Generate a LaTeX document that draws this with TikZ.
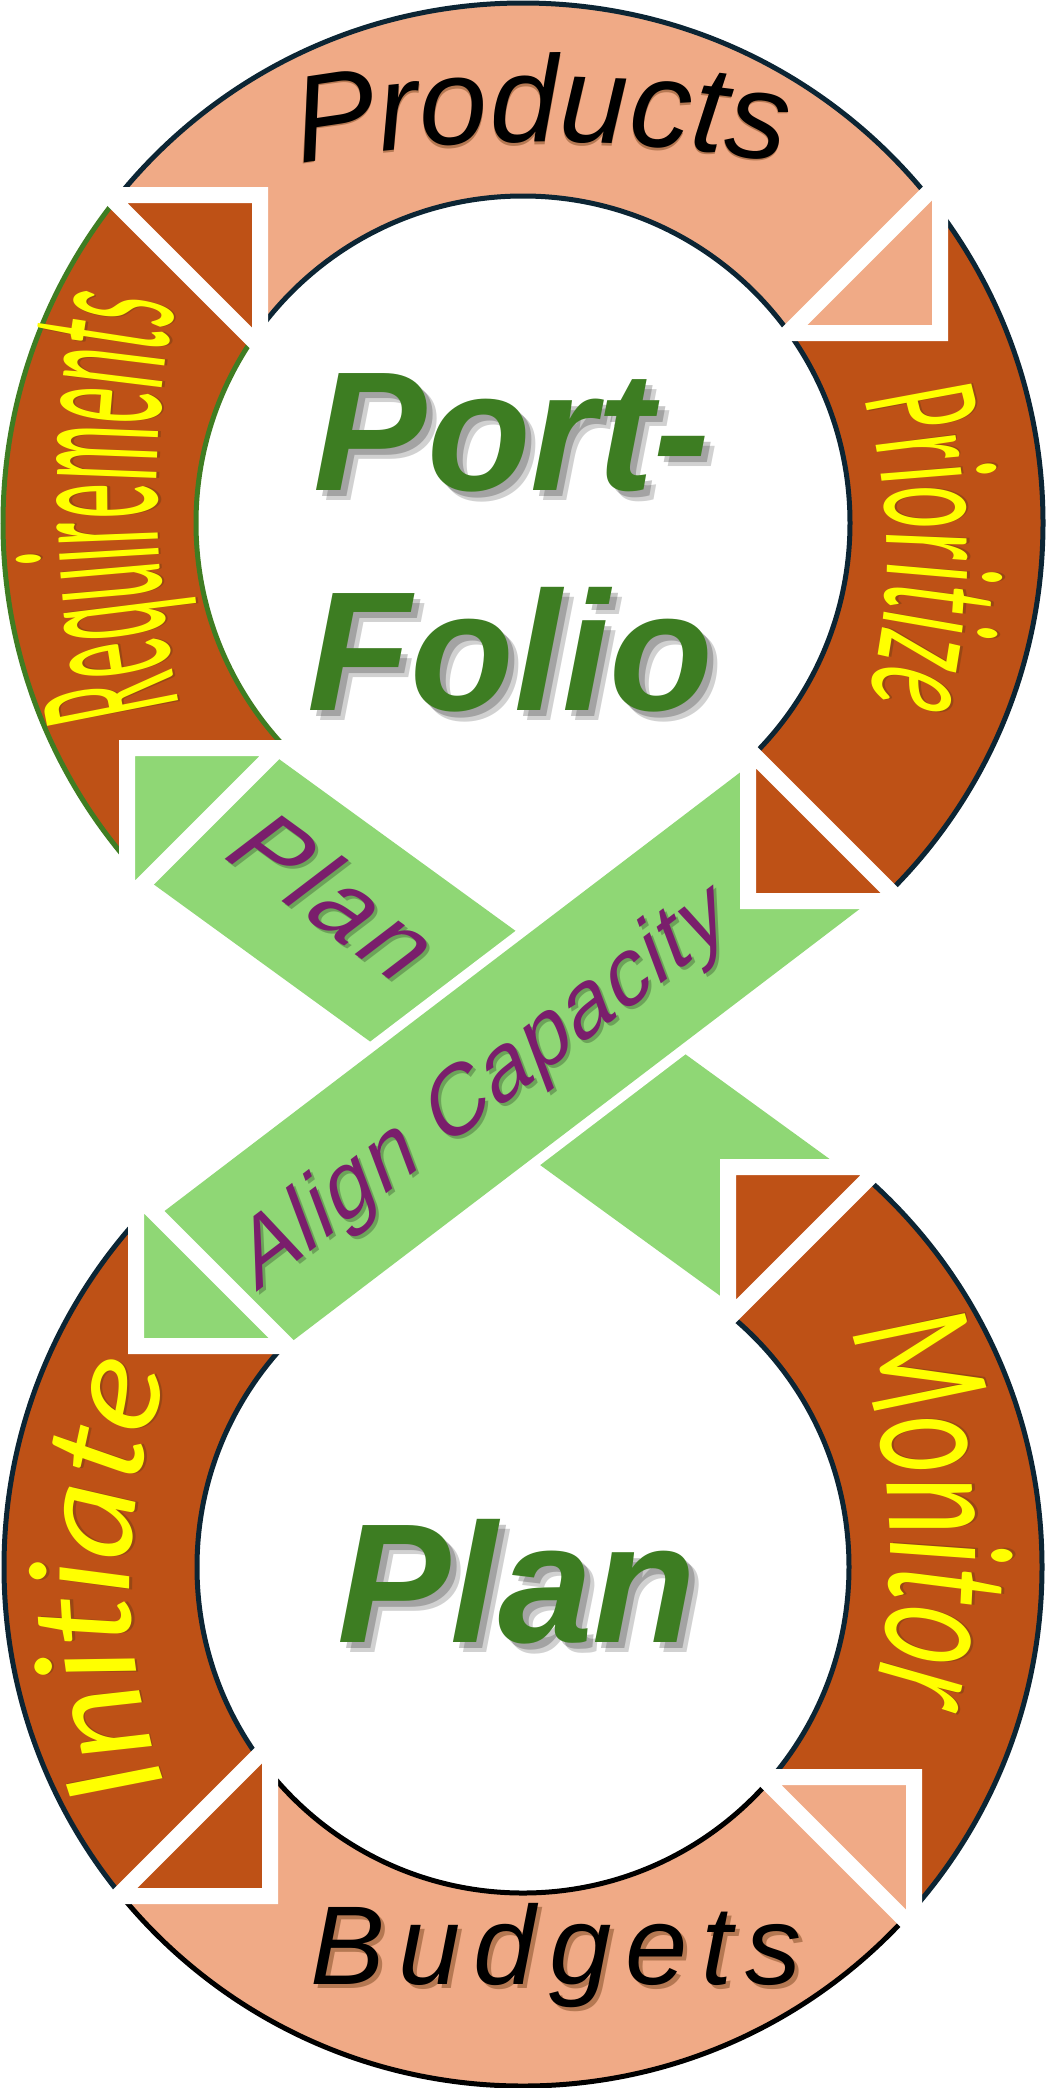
\documentclass[tikz,border=0pt]{standalone}
\usepackage{fontspec}
\setmainfont{Liberation Sans}
\newfontfamily\reqfont[FakeStretch=0.34]{Carlito}
\newfontfamily\prifont[FakeStretch=0.50]{Carlito}
\newfontfamily\monfont[FakeStretch=0.63]{Carlito}
\newfontfamily\inifont{Carlito}
\newfontfamily\purfont[LetterSpace=6]{Liberation Sans}
\newfontfamily\alifont[LetterSpace=2]{Liberation Sans}
\newfontfamily\budfont[LetterSpace=12]{Liberation Sans}
\usetikzlibrary{decorations.text}

\definecolor{salmon}{RGB}{240,170,134}
\definecolor{rust}{RGB}{190,81,22}
\definecolor{leaf}{RGB}{143,215,117}
\definecolor{navy}{RGB}{12,37,52}
\definecolor{ringgreen}{RGB}{63,125,34}
\definecolor{biggreen}{RGB}{61,125,34}
\definecolor{plum}{RGB}{122,30,108}
\definecolor{txtyellow}{RGB}{255,255,0}
\definecolor{glow}{RGB}{110,60,20}

\newcommand\reqF{\reqfont\fontsize{208}{208}\selectfont}
\newcommand\priF{\prifont\itshape\fontsize{168}{168}\selectfont}
\newcommand\monF{\monfont\itshape\fontsize{178}{178}\selectfont}
\newcommand\iniF{\inifont\itshape\fontsize{146}{146}\selectfont}
\newcommand\prodF{\itshape\fontsize{123}{123}\selectfont}

% text along a path with a soft offset shadow: #1 font, #2 colour, #3 text, #4 path
\newcommand\curvtext[4]{%
  \begin{scope}[shift={(4,4)}, opacity=0.45]
    \path[decorate, decoration={text along path, text align=center,
      text={|#1\color{glow}|#3}}] #4;
  \end{scope}
  \path[decorate, decoration={text along path, text align=center,
    text={|#1\color{#2}|#3}}] #4;
}

\tikzset{
  ringline/.style={line width=5pt},
  headtri/.style={draw=white, line width=16pt, line join=miter},
  bigtxt/.style={inner sep=0pt, font=\fontsize{170}{170}\selectfont\bfseries\itshape},
  purp/.style={inner sep=0pt, text=plum},
}

\begin{document}
\begin{tikzpicture}[x=1pt,y=-1pt]
\useasboundingbox (0,0) rectangle (1046,2088);
\fill[white] (0,0) rectangle (1046,2088);
\coordinate (T) at (523,523);
\coordinate (B) at (523,1567);

% ---------------- top ring ----------------
% Requirements
\begin{scope}
  \clip (470,557) -- (-330,-243) -- (-330,1357) -- cycle;
  \fill[rust, even odd rule] (T) circle[radius=520] (T) circle[radius=327];
  \draw[ringgreen, ringline] (T) circle[radius=520] (T) circle[radius=327];
\end{scope}
% Products
\begin{scope}
  \clip (517,604) -- (-283,-196) -- (1317,-196) -- cycle;
  \fill[salmon, even odd rule] (T) circle[radius=520] (T) circle[radius=327];
  \draw[navy, ringline] (T) circle[radius=520] (T) circle[radius=327];
\end{scope}
% Prioritize
\begin{scope}
  \clip (560,561) -- (1360,-239) -- (1360,1361) -- cycle;
  \fill[rust, even odd rule] (T) circle[radius=520] (T) circle[radius=327];
  \draw[navy, ringline] (T) circle[radius=520] (T) circle[radius=327];
\end{scope}

% ---------------- bottom ring ----------------
% Initiate
\begin{scope}
  \clip (478,1536) -- (-322,736) -- (-322,2336) -- cycle;
  \fill[rust, even odd rule] (B) circle[radius=519] (B) circle[radius=326];
  \draw[navy, ringline] (B) circle[radius=519] (B) circle[radius=326];
\end{scope}
% Budgets
\begin{scope}
  \clip (499.5,1514.5) -- (-300.5,2314.5) -- (1299.5,2314.5) -- cycle;
  \fill[salmon, even odd rule] (B) circle[radius=519] (B) circle[radius=326];
  \draw[black, ringline] (B) circle[radius=519] (B) circle[radius=326];
\end{scope}
% Monitor
\begin{scope}
  \clip (516,1531) -- (1316,2331) -- (1316,731) -- cycle;
  \fill[rust, even odd rule] (B) circle[radius=519] (B) circle[radius=326];
  \draw[navy, ringline] (B) circle[radius=519] (B) circle[radius=326];
\end{scope}

% ---------------- crossing bands ----------------
% Plan band
\fill[leaf] (272.6,754.4) -- (840.6,1167) -- (728,1167) -- (728,1301.5) -- (147.3,879.7) -- cycle;
% Align Capacity band (white gap, then band)
\fill[white] (150.8,1208.8) -- (748,753.9) -- (748,901) -- (886.6,901) -- (294.3,1352.3) -- cycle;
\fill[leaf] (158.0,1216.0) -- (748,766.4) -- (748,901) -- (870.1,901) -- (287.1,1345.1) -- cycle;

% ---------------- arrow heads ----------------
\filldraw[headtri, fill=rust]   (260,195)  -- (108,195)  -- (260,347)  -- cycle;
\filldraw[headtri, fill=salmon] (940,333)  -- (788,333)  -- (940,181)  -- cycle;
\filldraw[headtri, fill=rust]   (748,901)  -- (748,749)  -- (900,901)  -- cycle;
\filldraw[headtri, fill=leaf]   (127,748)  -- (279,748)  -- (127,900)  -- cycle;
\filldraw[headtri, fill=leaf]   (136,1346) -- (136,1194) -- (288,1346) -- cycle;
\filldraw[headtri, fill=rust]   (728,1167) -- (880,1167) -- (728,1319) -- cycle;
\filldraw[headtri, fill=rust]   (270,1896) -- (270,1744) -- (118,1896) -- cycle;
\filldraw[headtri, fill=salmon] (914,1777) -- (762,1777) -- (914,1929) -- cycle;

% ---------------- curved labels ----------------
\coordinate (prA) at (241.5,175.4);
\coordinate (prB) at (841.5,175.4);
\curvtext{\prodF}{black}{Products}{(prA) .. controls (441.5,130.9) and (641.5,130.9) .. (prB)}

\node[inner sep=0pt, anchor=base, text=glow, opacity=0.45,
      font=\budfont\itshape\fontsize{112}{112}\selectfont] (budgetsS) at (560,1988) {Budgets};
\node[inner sep=0pt, anchor=base, font=\budfont\itshape\fontsize{112}{112}\selectfont]
  (budgets) at (556,1984) {Budgets};

\coordinate (rqA) at (201.8,790);
\coordinate (rqB) at (195,220);
\curvtext{\reqF}{txtyellow}{Requirements}{(rqA) .. controls (144.3,600) and (142.1,410) .. (rqB)}

\coordinate (piA) at (839.7,330);
\coordinate (piB) at (845.3,770);
\curvtext{\priF}{txtyellow}{Prioritize}{(piA) .. controls (900.9,476.7) and (902.8,623.3) .. (piB)}

\coordinate (moA) at (826.3,1275);
\coordinate (moB) at (856.9,1755);
\curvtext{\monF}{txtyellow}{Monitor}{(moA) .. controls (900,1435) and (910.2,1595) .. (moB)}

\coordinate (inA) at (190,1845);
\coordinate (inB) at (194.8,1315);
\curvtext{\iniF}{txtyellow}{Initiate}{(inA) .. controls (108.4,1668.3) and (110,1491.7) .. (inB)}

% ---------------- band labels ----------------
\node[purp, text=black!60!leaf, opacity=0.4, rotate=-36, xslant=0.3,
      font=\purfont\fontsize{100}{100}\selectfont] (planshadow) at (339,899) {Plan};
\node[purp, rotate=-36, xslant=0.3, font=\purfont\fontsize{100}{100}\selectfont]
      (plantxt) at (336,896) {Plan};
\node[purp, text=black!60!leaf, opacity=0.4, rotate=37.3, xslant=0.3,
      font=\alifont\fontsize{90}{90}\selectfont] (alignshadow) at (488,1092) {Align Capacity};
\node[purp, rotate=37.3, xslant=0.3, font=\alifont\fontsize{90}{90}\selectfont]
      (aligntxt) at (485,1089) {Align Capacity};

% ---------------- centre titles ----------------
\begin{scope}[opacity=0.18]
  \node[bigtxt, text=black, anchor=base] (portS2) at (522,500) {Port-};
  \node[bigtxt, text=black, anchor=base] (folioS2) at (520,720) {Folio};
  \node[bigtxt, text=black, anchor=base] (planS2) at (527,1652) {Plan};
\end{scope}
\begin{scope}[opacity=0.22]
  \node[bigtxt, text=black, anchor=base] (portS) at (518,496) {Port-};
  \node[bigtxt, text=black, anchor=base] (folioS) at (516,716) {Folio};
  \node[bigtxt, text=black, anchor=base] (planS) at (523,1648) {Plan};
\end{scope}
\node[bigtxt, text=biggreen, anchor=base] (port) at (512,490) {Port-};
\node[bigtxt, text=biggreen, anchor=base] (folio) at (510,710) {Folio};
\node[bigtxt, text=biggreen, anchor=base] (plan) at (517,1642) {Plan};
\end{tikzpicture}
\end{document}
